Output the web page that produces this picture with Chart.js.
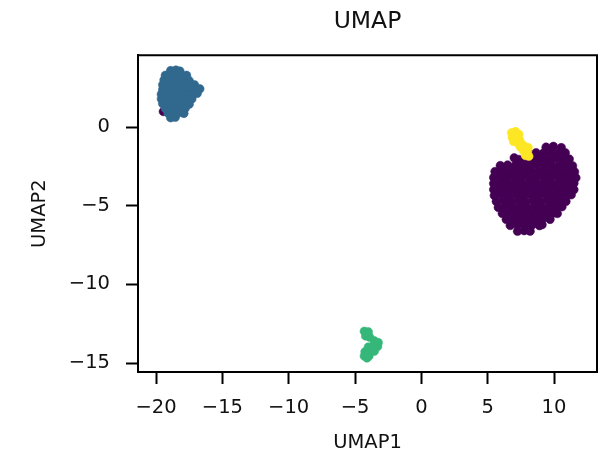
<!DOCTYPE html>
<html>
<head>
<meta charset="utf-8">
<script src="https://cdn.jsdelivr.net/npm/chart.js@4.4.1/dist/chart.umd.min.js"></script>
<style>
  body { margin: 0; background: #fff; }
  canvas { display: block; }
</style>
</head>
<body>
<canvas id="umap" width="604" height="457"></canvas>
<script>
// tick labels and axis limits
const xTicks = [-20, -15, -10, -5, 0, 5, 10];
const yTicks = [-15, -10, -5, 0];
const xLimits = [-21.36, 13.24];
const yLimits = [-15.57, 4.58];

const clusterNames = ["0", "1", "2", "3"];
const clusterColors = ["#440154", "#31688e", "#35b779", "#fde725"];

// cluster 0 (big purple blob), listed row by row
const purplePts = [
  [9.40, -1.27], [9.95, -1.22], [10.55, -1.30],
  [8.10, -1.68], [8.65, -1.62], [9.20, -1.65], [9.75, -1.60], [10.30, -1.66], [10.85, -1.62],
  [7.35, -2.05], [7.90, -2.00], [8.45, -2.06], [9.00, -2.02], [9.55, -2.04], [10.10, -1.99], [10.65, -2.05], [11.15, -2.02],
  [5.95, -2.44], [6.50, -2.40], [7.05, -2.45], [7.60, -2.41], [8.15, -2.43], [8.70, -2.38], [9.25, -2.44], [9.80, -2.40], [10.35, -2.45], [10.90, -2.41], [11.40, -2.46],
  [5.55, -2.82], [6.10, -2.78], [6.65, -2.83], [7.20, -2.79], [7.75, -2.81], [8.30, -2.77], [8.85, -2.82], [9.40, -2.80], [9.95, -2.78], [10.50, -2.83], [11.05, -2.79], [11.55, -2.84],
  [5.45, -3.20], [5.85, -3.15], [6.40, -3.19], [6.95, -3.16], [7.50, -3.21], [8.05, -3.17], [8.60, -3.20], [9.15, -3.16], [9.70, -3.19], [10.25, -3.15], [10.80, -3.20], [11.30, -3.17], [11.65, -3.22],
  [5.45, -3.58], [6.00, -3.54], [6.55, -3.57], [7.10, -3.55], [7.65, -3.59], [8.20, -3.54], [8.75, -3.58], [9.30, -3.55], [9.85, -3.57], [10.40, -3.53], [10.95, -3.58], [11.50, -3.56],
  [5.45, -3.96], [5.75, -3.92], [6.30, -3.95], [6.85, -3.91], [7.40, -3.96], [7.95, -3.93], [8.50, -3.95], [9.05, -3.92], [9.60, -3.96], [10.15, -3.93], [10.70, -3.95], [11.25, -3.92], [11.50, -3.97],
  [5.50, -4.34], [6.05, -4.30], [6.60, -4.33], [7.15, -4.31], [7.70, -4.35], [8.25, -4.30], [8.80, -4.33], [9.35, -4.29], [9.90, -4.34], [10.45, -4.31], [11.00, -4.33], [11.30, -4.30],
  [5.65, -4.72], [6.20, -4.68], [6.75, -4.71], [7.30, -4.69], [7.85, -4.73], [8.40, -4.68], [8.95, -4.71], [9.50, -4.67], [10.05, -4.72], [10.60, -4.69], [10.90, -4.72],
  [5.80, -5.10], [6.35, -5.06], [6.90, -5.09], [7.45, -5.07], [8.00, -5.11], [8.55, -5.06], [9.10, -5.10], [9.65, -5.07], [10.20, -5.09], [10.60, -5.06],
  [6.10, -5.49], [6.65, -5.45], [7.20, -5.48], [7.75, -5.46], [8.30, -5.50], [8.85, -5.45], [9.40, -5.48], [9.95, -5.46], [10.25, -5.49],
  [6.40, -5.87], [6.95, -5.83], [7.50, -5.86], [8.05, -5.84], [8.60, -5.88], [9.15, -5.83], [9.70, -5.86],
  [6.70, -6.25], [7.25, -6.21], [7.80, -6.24], [8.35, -6.22], [8.90, -6.26], [9.10, -6.20],
  [7.25, -6.62], [7.75, -6.58], [8.20, -6.61]
];
// a few stray cluster 0 points
const purpleStray = [[7.00, -1.95], [-19.45, 1.00]];

// cluster 1 (blue, top left)
const bluePts = [
  [-18.90, 3.60], [-18.50, 3.63], [-18.20, 3.57],
  [-19.30, 3.30], [-18.90, 3.27], [-18.50, 3.32], [-18.10, 3.28], [-17.70, 3.30],
  [-19.40, 3.00], [-19.00, 2.97], [-18.60, 3.02], [-18.20, 2.98], [-17.80, 3.01], [-17.50, 2.96],
  [-19.50, 2.70], [-19.10, 2.67], [-18.70, 2.72], [-18.30, 2.68], [-17.90, 2.71], [-17.50, 2.66], [-17.10, 2.70],
  [-19.50, 2.40], [-19.10, 2.37], [-18.70, 2.42], [-18.30, 2.38], [-17.90, 2.41], [-17.50, 2.36], [-17.10, 2.40], [-16.70, 2.44],
  [-19.60, 2.10], [-19.20, 2.07], [-18.80, 2.12], [-18.40, 2.08], [-18.00, 2.11], [-17.60, 2.06], [-17.20, 2.10], [-16.90, 2.15],
  [-19.60, 1.80], [-19.20, 1.77], [-18.80, 1.82], [-18.40, 1.78], [-18.00, 1.81], [-17.60, 1.76], [-17.30, 1.80],
  [-19.50, 1.50], [-19.10, 1.47], [-18.70, 1.52], [-18.30, 1.48], [-17.90, 1.51], [-17.50, 1.46],
  [-19.30, 1.20], [-18.90, 1.17], [-18.50, 1.22], [-18.10, 1.18], [-17.80, 1.21],
  [-19.10, 0.90], [-18.70, 0.87], [-18.30, 0.92], [-17.90, 0.88],
  [-18.90, 0.60], [-18.55, 0.63]
];

// cluster 2 (green, bottom)
const greenPts = [
  [-4.30, -12.98], [-4.00, -13.02], [-4.20, -13.28], [-3.90, -13.35],
  [-3.55, -13.58], [-3.25, -13.70], [-3.30, -13.95], [-3.60, -13.90],
  [-4.00, -13.98], [-4.25, -14.28], [-3.85, -14.25], [-3.55, -14.25],
  [-4.30, -14.55], [-3.95, -14.55], [-4.10, -14.68]
];

// cluster 3 (yellow, above the purple blob)
const yellowPts = [
  [6.80, -0.35], [7.10, -0.28], [7.35, -0.45], [6.85, -0.65],
  [7.15, -0.62], [7.40, -0.80], [6.95, -0.90], [7.25, -1.00],
  [7.55, -1.05], [7.45, -1.25], [7.75, -1.20], [8.05, -1.30],
  [7.70, -1.50], [8.00, -1.55], [7.85, -1.80], [8.10, -1.85]
];

const toXY = (arr) => arr.map((p) => ({ x: p[0], y: p[1] }));
const minusSign = (v) => (v < 0 ? "\u2212" + Math.abs(v) : String(v));

function pointSet(label, pts, color) {
  return {
    label: label,
    data: toXY(pts),
    backgroundColor: color,
    borderColor: color,
    borderWidth: 0.5,
    pointRadius: 4.3,
    pointHoverRadius: 4.3,
  };
}

// top and right spines
const frame = {
  id: "frame",
  afterDraw(chart) {
    const { ctx, chartArea: a } = chart;
    ctx.save();
    ctx.strokeStyle = "#000";
    ctx.lineWidth = 2;
    ctx.beginPath();
    ctx.moveTo(a.left, a.top);
    ctx.lineTo(a.right, a.top);
    ctx.lineTo(a.right, a.bottom);
    ctx.stroke();
    ctx.restore();
  },
};

const fontFam = "'DejaVu Sans', sans-serif";
const axisFont = { family: fontFam, size: 19.5 };

new Chart("umap", {
  type: "scatter",
  data: {
    datasets: [
      pointSet(clusterNames[3], yellowPts, clusterColors[3]),
      pointSet(clusterNames[1], bluePts, clusterColors[1]),
      pointSet(clusterNames[2], greenPts, clusterColors[2]),
      pointSet(clusterNames[0], purpleStray, clusterColors[0]),
      pointSet(clusterNames[0], purplePts, clusterColors[0]),
    ],
  },
  options: {
    responsive: false,
    animation: false,
    events: [],
    layout: { padding: { left: 0, right: 7, top: 0, bottom: 0 } },
    plugins: {
      legend: { display: false },
      tooltip: { enabled: false },
      title: {
        display: true,
        text: "UMAP",
        color: "#111",
        fullSize: false,
        font: { family: fontFam, size: 23.5, weight: "normal" },
        padding: { top: 8, bottom: 19 },
      },
    },
    scales: {
      x: {
        type: "linear",
        position: "bottom",
        min: xLimits[0],
        max: xLimits[1],
        afterFit: (s) => { s.height = 85; },
        afterBuildTicks: (s) => { s.ticks = xTicks.map((v) => ({ value: v })); },
        ticks: { color: "#111", font: axisFont, padding: 12, callback: minusSign, maxRotation: 0 },
        grid: { drawOnChartArea: false, drawTicks: true, tickLength: 12, tickColor: "#000", tickWidth: 2 },
        border: { display: true, color: "#000", width: 2 },
        title: { display: true, text: "UMAP1", color: "#111", font: axisFont, padding: { top: 0, bottom: 2 } },
      },
      y: {
        type: "linear",
        position: "left",
        min: yLimits[0],
        max: yLimits[1],
        afterFit: (s) => { s.width = 138; },
        afterBuildTicks: (s) => { s.ticks = yTicks.map((v) => ({ value: v })); },
        ticks: { color: "#111", font: axisFont, padding: 16, callback: minusSign },
        grid: { drawOnChartArea: false, drawTicks: true, tickLength: 12, tickColor: "#000", tickWidth: 2 },
        border: { display: true, color: "#000", width: 2 },
        title: { display: true, text: "UMAP2", color: "#111", font: axisFont, padding: { top: 28, bottom: 0 } },
      },
    },
  },
  plugins: [frame],
});
</script>
</body>
</html>
